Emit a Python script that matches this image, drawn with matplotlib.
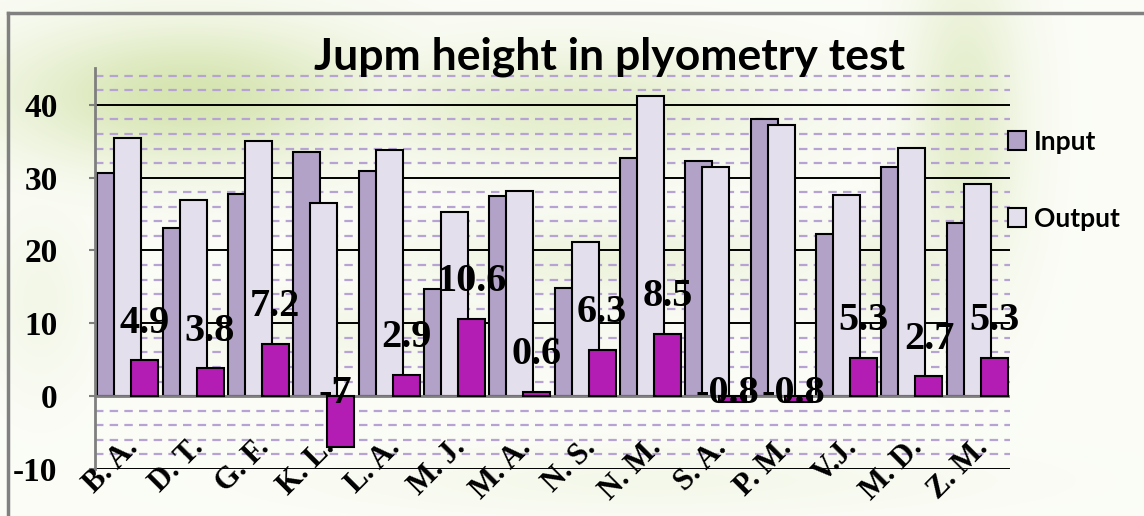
import numpy as np
import matplotlib.pyplot as plt
from matplotlib.patches import Rectangle

# jump heights per athlete, before and after the plyometric programme
athletes = ['B. A.', 'D. T.', 'G. F.', 'K. L.', 'L. A.', 'M. J.', 'M. A.',
            'N. S.', 'N. M.', 'S. A.', 'P. M.', 'V.J.', 'M. D.', 'Z. M.']
input_height = [30.6, 23.1, 27.8, 33.5, 30.9, 14.7, 27.5,
                14.8, 32.7, 32.3, 38.0, 22.3, 31.4, 23.8]
output_height = [35.5, 26.9, 35.0, 26.5, 33.8, 25.3, 28.1,
                 21.1, 41.2, 31.5, 37.2, 27.6, 34.1, 29.1]
difference = [4.9, 3.8, 7.2, -7, 2.9, 10.6, 0.6,
              6.3, 8.5, -0.8, -0.8, 5.3, 2.7, 5.3]
y_ticks = [-10, 0, 10, 20, 30, 40]

W, H = 1144, 516
fig = plt.figure(figsize=(W / 100, H / 100), dpi=100)

# soft green swirl backdrop
yy, xx = np.mgrid[0:H, 0:W]
base = np.array([0.985, 0.99, 0.968])
green = np.array([0.72, 0.82, 0.47])
blend = np.zeros((H, W))
for cx, cy, sx, sy, a in [(190, 95, 130, 50, 0.55), (560, 105, 150, 40, 0.35),
                          (965, 120, 40, 110, 0.35), (900, 270, 60, 35, 0.22),
                          (620, 260, 140, 30, 0.2), (380, 330, 160, 25, 0.12),
                          (40, 300, 35, 60, 0.12), (650, 480, 200, 22, 0.1)]:
    blend = np.maximum(blend, a * np.exp(-(((xx - cx) / sx) ** 2 + ((yy - cy) / sy) ** 2) / 2))
img = base * (1 - blend[..., None]) + green * blend[..., None]
bg = fig.add_axes([0, 0, 1, 1], zorder=-5)
bg.imshow(img, aspect='auto', extent=[0, W, H, 0])
bg.set_xlim(0, W)
bg.set_ylim(H, 0)
bg.axis('off')
# chart area border (top and left edges show)
bg.plot([8, 8], [13, H], color='#808080', lw=2.5)
bg.plot([8, W], [13, 13], color='#808080', lw=2.5)

ax = fig.add_axes([95 / W, 1 - 469 / H, (1010 - 95) / W, (469 - 68.4) / H])
ax.set_facecolor('none')

x = np.arange(len(athletes))
bw = 0.413
off = 0.26
serif = 'Liberation Serif'

# gridlines
for v in np.arange(-8, 46, 2):
    if v % 10 != 0:
        ax.axhline(v, color='#b7a3d3', lw=1.6, ls=(0, (3.8, 2.8)), zorder=0)
for v in y_ticks:
    if v != 0:
        ax.axhline(v, color='black', lw=1.4, zorder=0.5)

ax.bar(x - off, input_height, bw, color='#b2a2c7', edgecolor='black', lw=1.5, zorder=2, label='Input')
ax.bar(x, output_height, bw, color='#e4dfec', edgecolor='black', lw=1.5, zorder=3, label='Output')
ax.bar(x + off, difference, bw, color='#b41db4', edgecolor='black', lw=1.5, zorder=4)
ax.axhline(0, color='#7f7f7f', lw=2, zorder=3.5)

for xi, d in zip(x, difference):
    lbl = f'{d:g}'
    if d >= 0:
        ax.text(xi + off, d + 2.6, lbl, ha='center', va='bottom', fontsize=29,
                fontweight='bold', family=serif, zorder=6)
    else:
        ax.text(xi + off - 0.08, 0.3, lbl, ha='center', va='center', fontsize=29,
                fontweight='bold', family=serif, zorder=6)

for xi, name in zip(x, athletes):
    ax.text(xi + 0.1, -6.5, name, rotation=45, ha='right', va='center',
            rotation_mode='anchor', fontsize=22, fontweight='bold', family=serif, zorder=6)

ax.set_xlim(-0.5, len(athletes) - 0.5)
ax.set_ylim(-10, 45)
ax.set_xticks([])
ax.set_yticks(y_ticks)
ax.set_yticklabels([str(v) for v in y_ticks], fontsize=24, fontweight='bold', family=serif)
ax.tick_params(axis='y', length=4, width=1.5, color='#7f7f7f', pad=23)
for s in ['top', 'right', 'bottom']:
    ax.spines[s].set_visible(False)
ax.spines['left'].set_color('#7f7f7f')
ax.spines['left'].set_linewidth(2)

fig.text(610 / W, 1 - 57 / H, 'Jupm height in plyometry test', ha='center', va='center',
         fontsize=32, fontweight='bold', family='Lato')

handles = [Rectangle((0, 0), 1, 1, facecolor='#b2a2c7', edgecolor='black', lw=1.5),
           Rectangle((0, 0), 1, 1, facecolor='#e4dfec', edgecolor='black', lw=1.5)]
fig.legend(handles, ['Input', 'Output'], loc='upper left', bbox_to_anchor=(984 / W, 1 - 106 / H),
           frameon=False, prop={'family': 'Lato', 'weight': 'bold', 'size': 19},
           handlelength=0.7, handleheight=0.7, handletextpad=0.3, labelspacing=2.0)

fig.savefig('out.png', dpi=100)
